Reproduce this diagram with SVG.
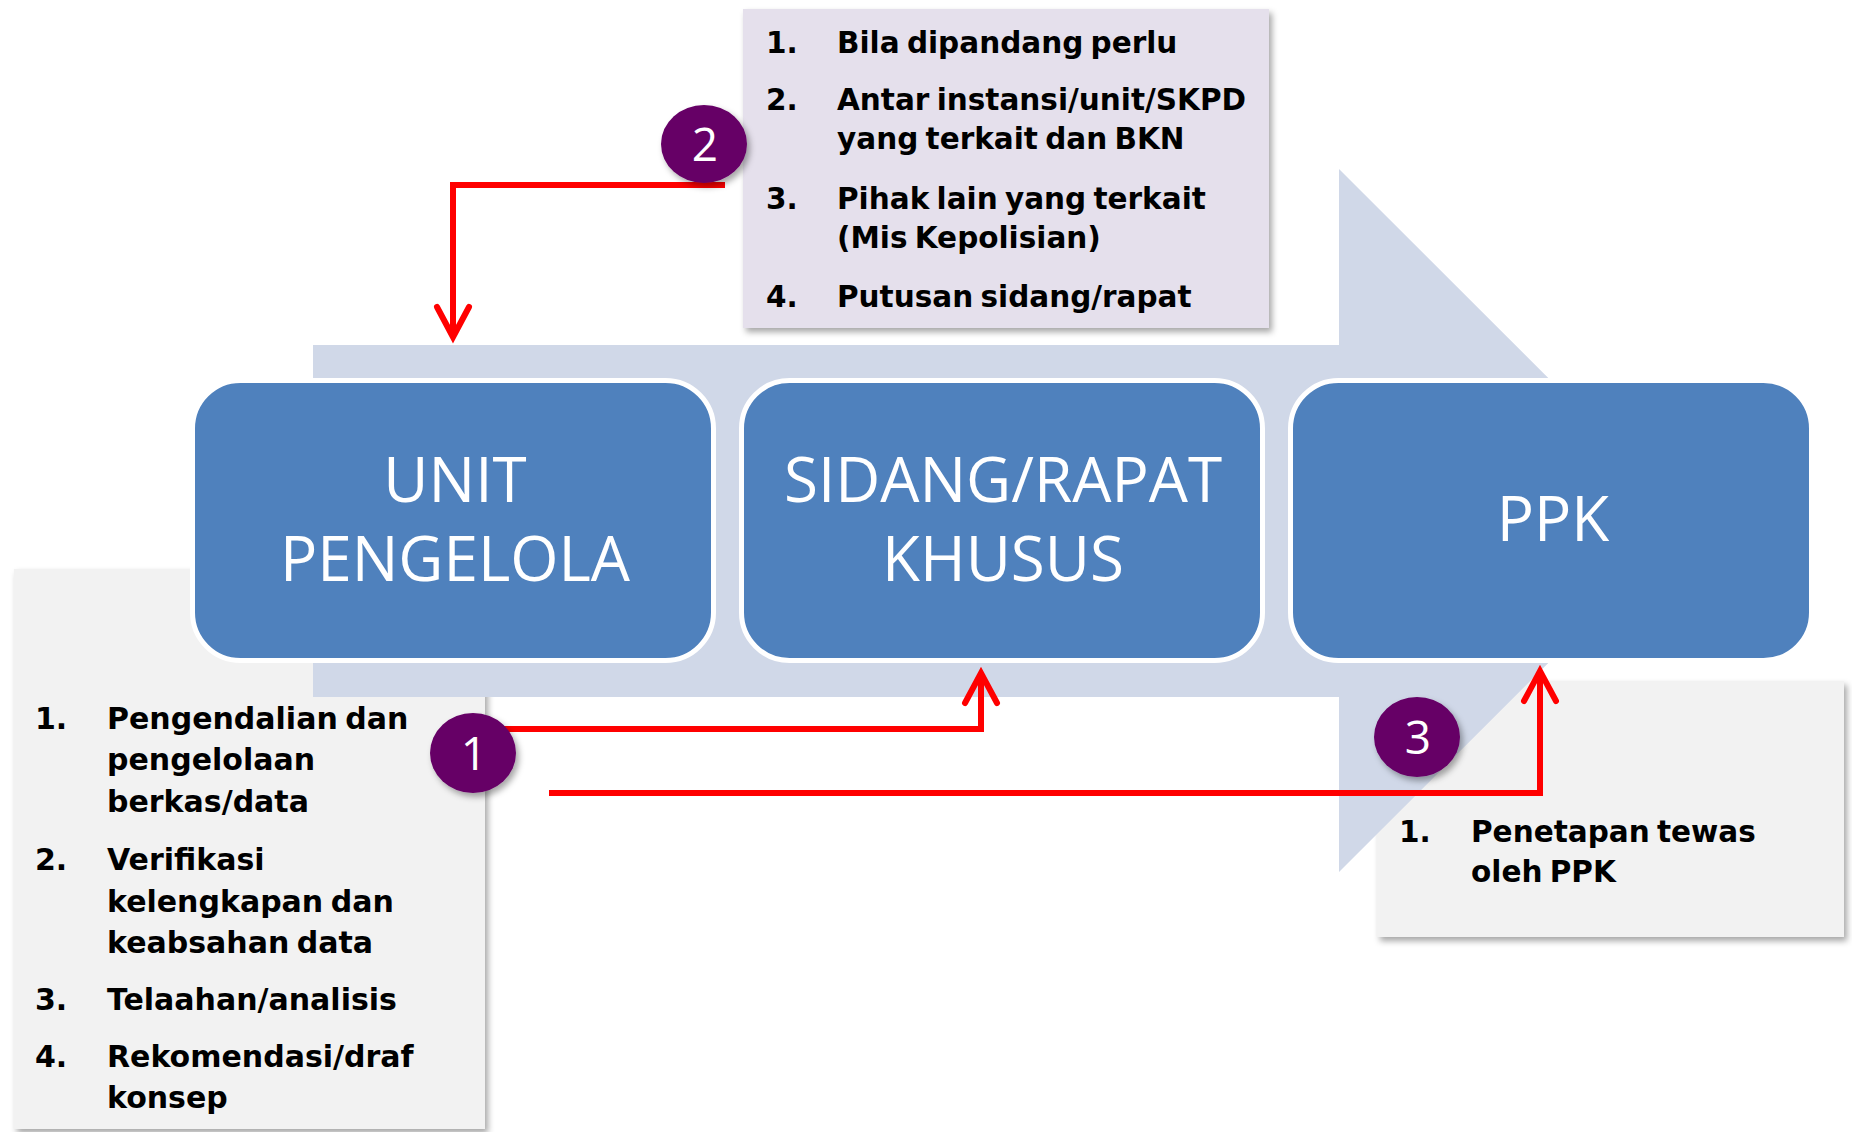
<svg xmlns="http://www.w3.org/2000/svg" width="1852" height="1132" viewBox="0 0 1852 1132">
  <defs>
    <filter id="shadow" x="-10%" y="-10%" width="130%" height="130%">
      <feDropShadow dx="3" dy="4" stdDeviation="3" flood-color="#000" flood-opacity="0.35"/>
    </filter>
    <marker id="chev" markerUnits="userSpaceOnUse" viewBox="-36 -20 40 40" markerWidth="40" markerHeight="40" refX="0" refY="0" orient="auto" overflow="visible">
      <path d="M -30 -16 L 0 0 L -30 16" fill="none" stroke="#FF0000" stroke-width="6" stroke-linecap="round" stroke-linejoin="miter"/>
    </marker>
  </defs>
  <style>
    .band { fill: #D0D8E8; }
    .note { filter: url(#shadow); }
    .gray { fill: #F2F2F2; }
    .lav { fill: #E5E0EC; }
    .node { fill: #4F81BD; stroke: #FFFFFF; stroke-width: 5; }
    .ntext { font-family: "Open Sans", "Noto Sans", sans-serif; font-size: 62px; fill: #FFFFFF; text-anchor: middle; }
    .list { font-family: "DejaVu Sans", sans-serif; font-weight: bold; font-size: 29.5px; fill: #000000; word-spacing: -3px; }
    .conn { fill: none; stroke: #FF0000; stroke-width: 6; stroke-linejoin: miter; marker-end: url(#chev); }
    .badge { fill: #660066; filter: url(#shadow); }
    .btext { font-family: "Open Sans", "Noto Sans", sans-serif; font-size: 46px; fill: #FFFFFF; text-anchor: middle; }
  </style>

  <!-- note boxes -->
  <g id="note-top">
    <rect class="lav note" x="743" y="9" width="526" height="319"/>
    <text class="list">
      <tspan x="766" y="53">1.</tspan><tspan x="837" y="53">Bila dipandang perlu</tspan>
      <tspan x="766" y="110">2.</tspan><tspan x="837" y="110">Antar instansi/unit/SKPD</tspan>
      <tspan x="837" y="149">yang terkait dan BKN</tspan>
      <tspan x="766" y="209">3.</tspan><tspan x="837" y="209">Pihak lain yang terkait</tspan>
      <tspan x="837" y="248">(Mis Kepolisian)</tspan>
      <tspan x="766" y="307">4.</tspan><tspan x="837" y="307">Putusan sidang/rapat</tspan>
    </text>
  </g>

  <g id="note-left">
    <rect class="gray note" x="14" y="569" width="471" height="560"/>
  </g>

  <g id="note-right">
    <rect class="gray note" x="1377" y="681" width="467" height="256"/>
  </g>

  <!-- background process arrow (drawn over the grey notes) -->
  <path id="process-arrow" class="band" d="M313 345 H1339 V169 L1691 520.5 L1339 872 V697 H313 Z"/>

  <g id="note-left-text">
    <text class="list" style="font-size:30px">
      <tspan x="35" y="729">1.</tspan><tspan x="107" y="729">Pengendalian dan</tspan>
      <tspan x="107" y="770">pengelolaan</tspan>
      <tspan x="107" y="812">berkas/data</tspan>
      <tspan x="35" y="870">2.</tspan><tspan x="107" y="870">Verifikasi</tspan>
      <tspan x="107" y="912">kelengkapan dan</tspan>
      <tspan x="107" y="953">keabsahan data</tspan>
      <tspan x="35" y="1010">3.</tspan><tspan x="107" y="1010">Telaahan/analisis</tspan>
      <tspan x="35" y="1067">4.</tspan><tspan x="107" y="1067">Rekomendasi/draf</tspan>
      <tspan x="107" y="1108">konsep</tspan>
    </text>
  </g>

  <g id="note-right-text">
    <text class="list">
      <tspan x="1399" y="842">1.</tspan><tspan x="1471" y="842">Penetapan tewas</tspan>
      <tspan x="1471" y="882">oleh PPK</tspan>
    </text>
  </g>

  <!-- process nodes -->
  <g id="node-unit">
    <rect class="node" x="192.5" y="380.5" width="521" height="280" rx="48"/>
    <text class="ntext"><tspan x="455" y="502">UNIT</tspan><tspan x="455" y="581">PENGELOLA</tspan></text>
  </g>
  <g id="node-sidang">
    <rect class="node" x="741.5" y="380.5" width="521" height="280" rx="48"/>
    <text class="ntext"><tspan x="1003" y="502">SIDANG/RAPAT</tspan><tspan x="1003" y="581">KHUSUS</tspan></text>
  </g>
  <g id="node-ppk">
    <rect class="node" x="1290.5" y="380.5" width="521" height="280" rx="48"/>
    <text class="ntext"><tspan x="1553" y="541">PPK</tspan></text>
  </g>

  <!-- connectors -->
  <g id="connectors">
    <path class="conn" d="M725 185 H453 V337"/>
    <path class="conn" d="M502 729 H981 V673"/>
    <path class="conn" d="M549 793 H1540 V671"/>
  </g>

  <!-- step badges -->
  <g id="badge-2">
    <ellipse class="badge" cx="704" cy="144" rx="43" ry="39"/>
    <text class="btext" x="705" y="161">2</text>
  </g>
  <g id="badge-1">
    <ellipse class="badge" cx="473" cy="753" rx="43" ry="40"/>
    <text class="btext" x="474" y="770">1</text>
  </g>
  <g id="badge-3">
    <ellipse class="badge" cx="1417" cy="737" rx="43" ry="40"/>
    <text class="btext" x="1418" y="754">3</text>
  </g>
</svg>
